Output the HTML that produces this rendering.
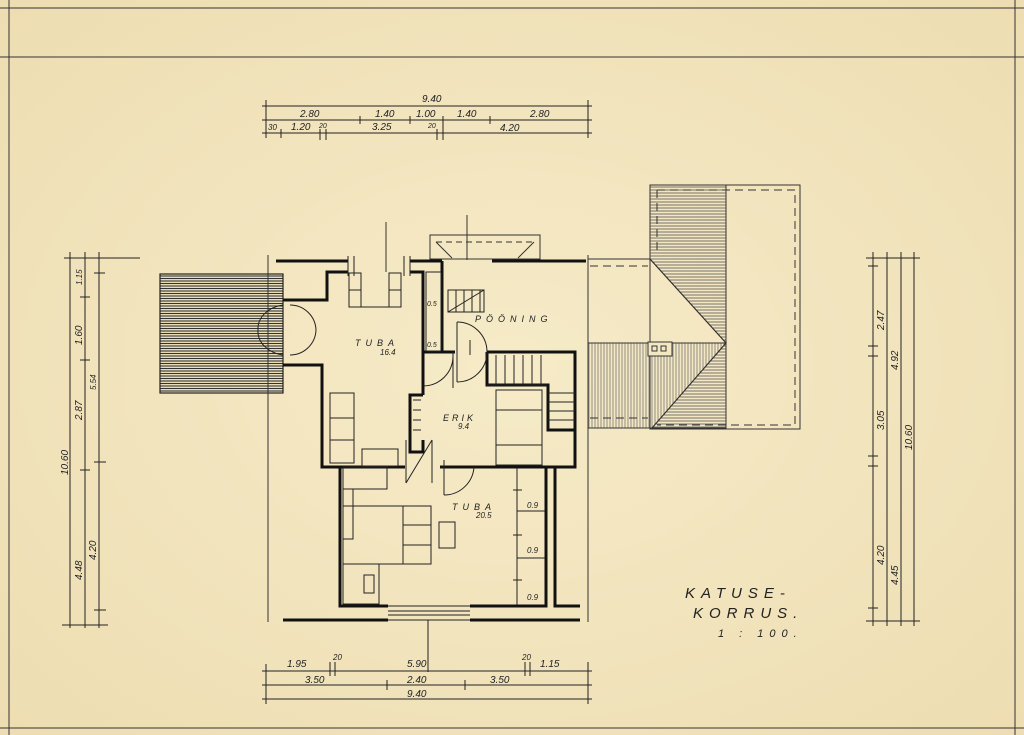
<!DOCTYPE html>
<html><head><meta charset="utf-8"><style>
html,body{margin:0;padding:0;background:#f4e8c3;}
svg{display:block;}
text{font-family:"Liberation Sans",sans-serif;font-style:italic;fill:#222;}
</style></head><body>
<svg width="1024" height="735" viewBox="0 0 1024 735" xmlns="http://www.w3.org/2000/svg">
<defs>
<radialGradient id="bg" cx="50%" cy="50%" r="75%"><stop offset="0" stop-color="#f6ebc8"/><stop offset="1" stop-color="#eddcb0"/></radialGradient>
<pattern id="hh" width="4" height="3" patternUnits="userSpaceOnUse"><line x1="0" y1="1" x2="4" y2="1" stroke="#555" stroke-width="0.8"/></pattern>
<pattern id="hh2" width="4" height="2.5" patternUnits="userSpaceOnUse"><line x1="0" y1="1" x2="4" y2="1" stroke="#333" stroke-width="1.1"/></pattern>
<pattern id="vh" width="3" height="4" patternUnits="userSpaceOnUse"><line x1="1" y1="0" x2="1" y2="4" stroke="#666" stroke-width="0.7"/></pattern>
</defs>
<rect width="1024" height="735" fill="url(#bg)"/>
<g stroke="#333" fill="none" stroke-width="1">
<line x1="0" y1="57" x2="1024" y2="57"/>
<line x1="0" y1="8" x2="1024" y2="8"/>
<line x1="9" y1="0" x2="9" y2="735"/>
<line x1="1015" y1="0" x2="1015" y2="735"/>
<line x1="0" y1="728" x2="1024" y2="728"/>
</g>

<!-- top dims -->
<g stroke="#222" stroke-width="1" fill="none">
<line x1="262" y1="106" x2="592" y2="106"/><line x1="262" y1="120" x2="592" y2="120"/><line x1="262" y1="133" x2="592" y2="133"/>
<line x1="266" y1="100" x2="266" y2="138"/><line x1="588" y1="100" x2="588" y2="138"/>
<line x1="360" y1="116" x2="360" y2="124"/><line x1="410" y1="116" x2="410" y2="124"/><line x1="443" y1="116" x2="443" y2="140"/><line x1="490" y1="116" x2="490" y2="124"/>
<line x1="281" y1="129" x2="281" y2="138"/><line x1="320" y1="129" x2="320" y2="140"/><line x1="326" y1="129" x2="326" y2="140"/><line x1="437" y1="129" x2="437" y2="140"/>
</g>
<g font-size="10">
<text x="422" y="102">9.40</text><text x="300" y="117">2.80</text><text x="375" y="117">1.40</text><text x="416" y="117">1.00</text><text x="457" y="117">1.40</text><text x="530" y="117">2.80</text>
<text x="268" y="130" font-size="8">30</text><text x="291" y="130">1.20</text><text x="319" y="128" font-size="7">20</text><text x="372" y="130">3.25</text><text x="428" y="128" font-size="7">20</text><text x="500" y="131">4.20</text>
</g>

<!-- bottom dims -->
<g stroke="#222" stroke-width="1" fill="none">
<line x1="262" y1="671" x2="592" y2="671"/><line x1="262" y1="685" x2="592" y2="685"/><line x1="262" y1="699" x2="592" y2="699"/>
<line x1="266" y1="664" x2="266" y2="704"/><line x1="588" y1="662" x2="588" y2="704"/>
<line x1="387" y1="680" x2="387" y2="690"/><line x1="465" y1="680" x2="465" y2="690"/>
<line x1="330" y1="662" x2="330" y2="676"/><line x1="335" y1="662" x2="335" y2="676"/><line x1="525" y1="662" x2="525" y2="676"/><line x1="530" y1="662" x2="530" y2="676"/>
<line x1="428" y1="620" x2="428" y2="672"/>
</g>
<g font-size="10">
<text x="287" y="667">1.95</text><text x="333" y="660" font-size="8">20</text><text x="407" y="667">5.90</text><text x="522" y="660" font-size="8">20</text><text x="540" y="667">1.15</text>
<text x="305" y="683">3.50</text><text x="407" y="683">2.40</text><text x="490" y="683">3.50</text><text x="407" y="697">9.40</text>
</g>

<!-- left dims -->
<g stroke="#222" stroke-width="1" fill="none">
<line x1="70" y1="252" x2="70" y2="628"/><line x1="85" y1="252" x2="85" y2="628"/><line x1="99" y1="252" x2="99" y2="628"/>
<line x1="64" y1="258" x2="140" y2="258"/><line x1="62" y1="625" x2="108" y2="625"/>
<line x1="94" y1="273" x2="105" y2="273"/><line x1="80" y1="297" x2="90" y2="297"/><line x1="80" y1="360" x2="90" y2="360"/><line x1="94" y1="462" x2="106" y2="462"/><line x1="80" y1="470" x2="90" y2="470"/><line x1="94" y1="610" x2="106" y2="610"/>
</g>
<g font-size="10">
<text transform="translate(68,475) rotate(-90)">10.60</text>
<text transform="translate(82,285) rotate(-90)" font-size="8">1.15</text>
<text transform="translate(82,345) rotate(-90)">1.60</text>
<text transform="translate(82,420) rotate(-90)">2.87</text>
<text transform="translate(82,580) rotate(-90)">4.48</text>
<text transform="translate(96,390) rotate(-90)" font-size="8">5.54</text>
<text transform="translate(96,560) rotate(-90)">4.20</text>
</g>

<!-- right dims -->
<g stroke="#222" stroke-width="1" fill="none">
<line x1="873" y1="252" x2="873" y2="626"/><line x1="887" y1="252" x2="887" y2="626"/><line x1="901" y1="252" x2="901" y2="626"/><line x1="914" y1="252" x2="914" y2="626"/>
<line x1="866" y1="258" x2="920" y2="258"/><line x1="866" y1="621" x2="920" y2="621"/>
<line x1="868" y1="266" x2="878" y2="266"/><line x1="868" y1="346" x2="878" y2="346"/><line x1="868" y1="356" x2="878" y2="356"/><line x1="868" y1="456" x2="878" y2="456"/><line x1="868" y1="466" x2="878" y2="466"/><line x1="868" y1="608" x2="878" y2="608"/>
</g>
<g font-size="10">
<text transform="translate(884,330) rotate(-90)">2.47</text>
<text transform="translate(884,430) rotate(-90)">3.05</text>
<text transform="translate(884,565) rotate(-90)">4.20</text>
<text transform="translate(898,370) rotate(-90)">4.92</text>
<text transform="translate(898,585) rotate(-90)">4.45</text>
<text transform="translate(912,450) rotate(-90)">10.60</text>
</g>

<!-- left stair / balcony hatch -->
<rect x="160" y="274" width="123" height="119" fill="url(#hh2)" stroke="#222" stroke-width="1.2"/>
<line x1="268" y1="255" x2="268" y2="622" stroke="#333" stroke-width="1"/>
<line x1="588" y1="255" x2="588" y2="622" stroke="#333" stroke-width="1"/>
<g fill="none" stroke="#222" stroke-width="1">
<path d="M283 305 A 30 24 0 0 0 258 330"/><path d="M283 355 A 30 24 0 0 1 258 330"/>
<path d="M290 305 A 26 26 0 0 1 316 330"/><path d="M290 355 A 26 26 0 0 0 316 330"/>
</g>

<!-- roof plan -->
<g stroke="#333" stroke-width="1">
<polygon points="650,185 726,185 726,343 650,259" fill="url(#hh)"/>
<polygon points="588,343 726,343 652,428 588,428" fill="url(#vh)"/>
<polygon points="726,343 726,428 652,428" fill="url(#hh)"/>
<rect x="650" y="185" width="150" height="244" fill="none"/>
<line x1="588" y1="259" x2="650" y2="259"/><line x1="650" y1="259" x2="726" y2="343"/>
<rect x="648" y="342" width="24" height="14" fill="#f4e8c3"/>
<rect x="652" y="346" width="5" height="5" fill="none"/><rect x="661" y="346" width="5" height="5" fill="none"/>
</g>
<g stroke="#333" stroke-width="1" stroke-dasharray="8,5" fill="none">
<path d="M657 190 L795 190 L795 425 L657 425"/><line x1="657" y1="190" x2="657" y2="255"/><line x1="590" y1="266" x2="648" y2="266"/><line x1="590" y1="418" x2="648" y2="418"/>
</g>

<!-- dormer top -->
<g stroke="#333" stroke-width="1" fill="none">
<rect x="430" y="235" width="110" height="24"/>
<line x1="436" y1="242" x2="452" y2="258"/><line x1="534" y1="242" x2="518" y2="258"/>
<line x1="436" y1="242" x2="534" y2="242" stroke-dasharray="6,4"/>
<line x1="467" y1="215" x2="467" y2="260"/><line x1="386" y1="222" x2="386" y2="272"/>
</g>

<!-- walls -->
<g stroke="#111" stroke-width="3" fill="none" stroke-linejoin="miter">
<line x1="276" y1="261" x2="348" y2="261"/><line x1="410" y1="261" x2="442" y2="261"/><line x1="492" y1="261" x2="586" y2="261"/>
<path d="M348 272 L327 272 L327 300 L283 300"/>
<path d="M283 365 L322 365 L322 467 L340 467"/>
<path d="M340 467 L340 606 L388 606"/>
<path d="M283 620 L388 620"/>
<path d="M470 606 L546 606 L546 467"/><path d="M470 620 L580 620"/>
<path d="M555 467 L555 606 L580 606"/>
<path d="M340 467 L405 467"/><path d="M440 467 L575 467 L575 352 L487 352"/>
<path d="M410 272 L423 272 L423 352 L455 352"/><path d="M442 261 L442 352"/>
<path d="M423 352 L423 395"/><path d="M423 440 L423 452 L410 452 L410 395 L423 395"/>
<path d="M487 352 L487 385 L548 385 L548 430 L575 430"/>
</g>
<g stroke="#222" stroke-width="1" fill="none">
<!-- window mullions -->
<line x1="348" y1="256" x2="348" y2="276"/><line x1="354" y1="256" x2="354" y2="276"/><line x1="404" y1="256" x2="404" y2="276"/><line x1="410" y1="256" x2="410" y2="276"/>
<line x1="388" y1="606" x2="470" y2="606"/><line x1="388" y1="611" x2="470" y2="611"/><line x1="388" y1="615" x2="470" y2="615"/><line x1="388" y1="620" x2="470" y2="620"/>
<!-- furniture tuba 16.4 -->
<rect x="349" y="273" width="12" height="34"/><line x1="349" y1="290" x2="361" y2="290"/>
<rect x="389" y="273" width="12" height="34"/><line x1="389" y1="290" x2="401" y2="290"/>
<line x1="360" y1="307" x2="400" y2="307"/>
<rect x="330" y="393" width="24" height="70"/><line x1="330" y1="418" x2="354" y2="418"/><line x1="330" y1="440" x2="354" y2="440"/>
<rect x="362" y="449" width="36" height="17"/>
<rect x="426" y="272" width="15" height="79"/>
<!-- doors -->
<path d="M423 386 A 30 30 0 0 0 453 356"/><line x1="453" y1="352" x2="453" y2="388"/>
<path d="M457 322 A 30 30 0 0 1 457 382"/><line x1="457" y1="322" x2="457" y2="382"/><line x1="470" y1="340" x2="470" y2="355"/>
<line x1="406" y1="440" x2="406" y2="483"/><line x1="432" y1="440" x2="432" y2="483"/><line x1="406" y1="483" x2="432" y2="440"/>
<path d="M444 495 A 30 30 0 0 0 474 467"/><line x1="444" y1="460" x2="444" y2="495"/>
<!-- stair -->
<rect x="448" y="290" width="36" height="22"/><line x1="448" y1="312" x2="484" y2="290"/>
<line x1="456" y1="290" x2="456" y2="312"/><line x1="464" y1="290" x2="464" y2="312"/><line x1="472" y1="290" x2="472" y2="312"/><line x1="480" y1="290" x2="480" y2="312"/>
<line x1="487" y1="385" x2="548" y2="385"/>
<line x1="496" y1="355" x2="496" y2="385"/><line x1="505" y1="355" x2="505" y2="385"/><line x1="514" y1="355" x2="514" y2="385"/><line x1="523" y1="355" x2="523" y2="385"/><line x1="532" y1="355" x2="532" y2="385"/><line x1="541" y1="355" x2="541" y2="385"/>
<line x1="548" y1="393" x2="575" y2="393"/><line x1="548" y1="402" x2="575" y2="402"/><line x1="548" y1="411" x2="575" y2="411"/><line x1="548" y1="420" x2="575" y2="420"/>
<rect x="496" y="390" width="46" height="75"/><line x1="496" y1="410" x2="542" y2="410"/><line x1="496" y1="445" x2="542" y2="445"/>
<line x1="413" y1="400" x2="421" y2="400"/><line x1="413" y1="410" x2="421" y2="410"/><line x1="413" y1="420" x2="421" y2="420"/><line x1="413" y1="430" x2="421" y2="430"/>
<!-- tuba 20.5 furniture -->
<rect x="343" y="467" width="44" height="22"/><rect x="343" y="489" width="10" height="50"/>
<rect x="343" y="506" width="60" height="58"/><rect x="403" y="506" width="28" height="58"/><line x1="403" y1="525" x2="431" y2="525"/><line x1="403" y1="545" x2="431" y2="545"/>
<rect x="439" y="522" width="16" height="26"/>
<rect x="343" y="564" width="36" height="40"/><rect x="364" y="575" width="10" height="18"/>
<line x1="517" y1="468" x2="517" y2="605"/><line x1="517" y1="511" x2="545" y2="511"/><line x1="517" y1="558" x2="545" y2="558"/>
<line x1="513" y1="490" x2="522" y2="490"/><line x1="513" y1="535" x2="522" y2="535"/><line x1="513" y1="580" x2="522" y2="580"/>
</g>
<g font-size="9">
<text x="355" y="346" letter-spacing="5">TUBA</text><text x="380" y="355" font-size="8">16.4</text>
<text x="475" y="322" letter-spacing="5">PÖÖNING</text>
<text x="443" y="421" letter-spacing="3">ERIK</text><text x="458" y="429" font-size="8">9.4</text>
<text x="452" y="510" letter-spacing="5">TUBA</text><text x="476" y="518" font-size="8">20.5</text>
<text x="427" y="306" font-size="7">0.5</text><text x="427" y="347" font-size="7">0.5</text>
<text x="527" y="508" font-size="8">0.9</text><text x="527" y="553" font-size="8">0.9</text><text x="527" y="600" font-size="8">0.9</text>
</g>
<g font-size="15" letter-spacing="6">
<text x="685" y="598">KATUSE-</text>
<text x="693" y="618">KORRUS.</text>
<text x="718" y="637" font-size="11">1 : 100.</text>
</g>
</svg>
</body></html>
